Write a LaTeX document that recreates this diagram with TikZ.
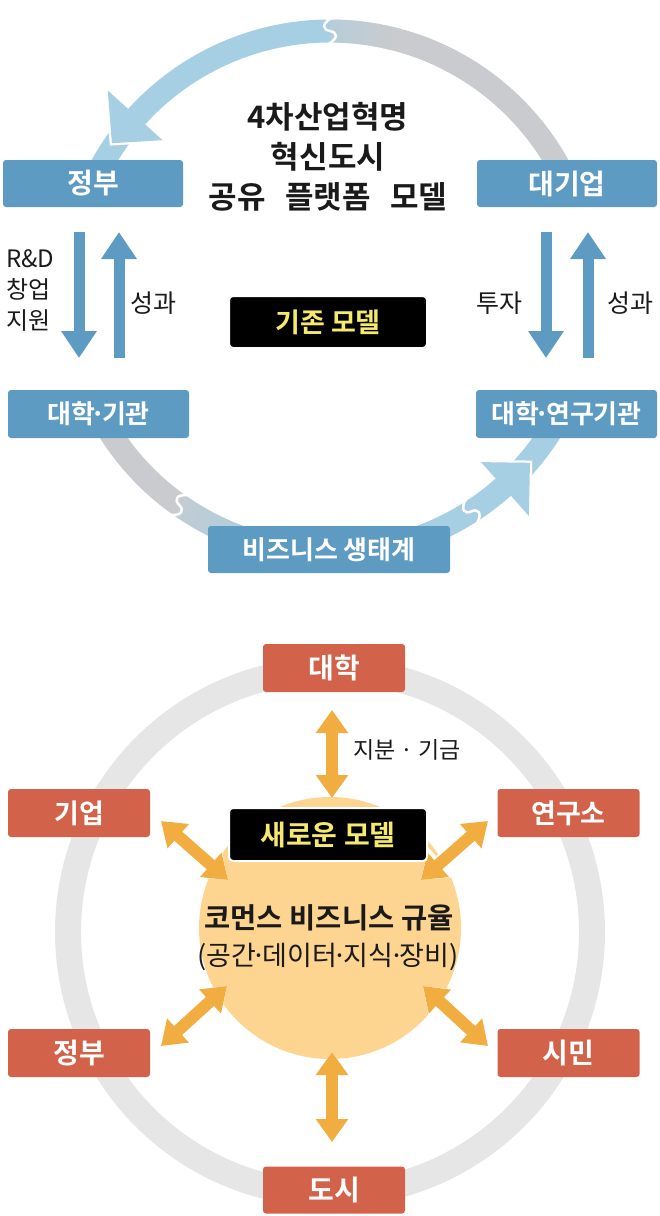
\documentclass[tikz,border=0pt]{standalone}
\usepackage{fontspec}
\setmainfont{Noto Sans CJK KR}[BoldFont={Noto Sans CJK KR Bold}]
\usetikzlibrary{arrows.meta}
\newcommand\mdt{\kern-0.16em·\kern-0.16em}
\definecolor{boxblue}{HTML}{5E9BC3}
\definecolor{bandblue}{HTML}{A7CFE4}
\definecolor{bandgray}{HTML}{C9CBCE}
\definecolor{boxred}{HTML}{D2634A}
\definecolor{ringgray}{HTML}{E6E6E7}
\definecolor{orangeA}{HTML}{F1AD3F}
\definecolor{orangeC}{HTML}{FDD490}
\definecolor{yel}{HTML}{F5EA6E}
\definecolor{ink}{HTML}{1A1A1A}
\tikzset{
  bluebox/.style={fill=boxblue, rounded corners=3pt, text=white, inner sep=0pt,
    font=\bfseries\fontsize{26}{30}\selectfont, minimum width=180pt, minimum height=47pt},
  redbox/.style={fill=boxred, rounded corners=3pt, text=white, inner sep=0pt,
    font=\bfseries\fontsize{28}{30}\selectfont, minimum width=142pt, minimum height=48pt},
  darkbox/.style={fill=black, draw=white, line width=2pt, rounded corners=4pt, text=yel, inner sep=0pt,
    font=\bfseries\fontsize{27}{30}\selectfont, minimum width=198pt, minimum height=52pt},
  lbl/.style={text=ink, inner sep=0pt, font=\fontsize{24}{31}\selectfont},
  bandline/.style={line width=23pt},
  vup/.style={draw=boxblue, line width=11pt, -{Triangle[width=34pt,length=27pt]}},
  dbl/.style={draw=orangeA, fill=orangeA, line width=12pt, {Triangle[width=31pt,length=23pt]}-{Triangle[width=31pt,length=23pt]}},
  dblw/.style={draw=white, fill=white, line width=16pt, {Triangle[width=38pt,length=27pt]}-{Triangle[width=38pt,length=27pt]}},
  notch/.style={draw=white, line width=2.5pt},
}
\begin{document}
\begin{tikzpicture}[x=1pt,y=1pt]
\useasboundingbox (0,0) rectangle (660,-1216);
% ---------------- top: cycle band ----------------
\begin{scope}[shift={(330,-292)}]
  % top arc
  \draw[bandline, bandgray] (27:261) arc[start angle=27, end angle=76.5, radius=261];
  \foreach \i in {0,...,27}{
    \pgfmathsetmacro\aa{76+\i*0.5}
    \pgfmathsetmacro\pp{\i*2}
    \draw[bandline, draw=bandblue!\pp!bandgray] (\aa:261) arc[start angle=\aa, end angle=\aa+0.7, radius=261];
  }
  \draw[bandline, bandblue] (90:261) arc[start angle=90, end angle=153, radius=261];
  % bottom arc
  \draw[bandline, bandgray] (207:261) arc[start angle=207, end angle=235, radius=261];
  \foreach \i in {0,...,46}{
    \pgfmathsetmacro\aa{234.7+\i*0.5}
    \pgfmathsetmacro\pp{20+\i*80/46}
    \draw[bandline, draw=bandblue!\pp!bandgray] (\aa:261) arc[start angle=\aa, end angle=\aa+0.7, radius=261];
  }
  \draw[bandline, bandblue] (257.5:261) arc[start angle=257.5, end angle=333, radius=261];
  % notches
  \foreach \t in {90,234.7,302.8}{
    \begin{scope}[rotate=\t-90]
      \draw[notch] (1.5,274) .. controls (-9,268) and (-7,262) .. (0,261) .. controls (7,260) and (9,254) .. (-1.5,248);
    \end{scope}
  }
  % arrowheads
  \draw[white, line width=4.5pt, line join=miter] (137.8:300) -- (145.7:264) -- (137.8:226);
  \fill[bandblue] (145.7:264) -- (137.8:300) -- (137.8:226) -- cycle;
  \draw[white, line width=4.5pt, line join=miter] (311.6:227.5) -- (319.5:263) -- (311.6:299.5);
  \fill[bandblue] (319.5:263) -- (311.6:227.5) -- (311.6:299.5) -- cycle;
\end{scope}

% ---------------- top: nodes ----------------
\node[bluebox, font=\bfseries\fontsize{28}{30}\selectfont] (gov1) at (93,-183.5) {정부};
\node[bluebox, font=\bfseries\fontsize{28}{30}\selectfont] (bigco) at (567,-183.5) {대기업};
\node[bluebox, minimum width=181pt, minimum height=48pt] (uni1) at (98.5,-414) {대학\mdt 기관};
\node[bluebox, minimum width=181pt, minimum height=48pt] (uni2) at (566.5,-414) {대학\mdt 연구기관};
\node[bluebox, minimum width=242pt] (eco) at (329,-549.5) {비즈니스 생태계};
\node[darkbox] (oldm) at (328,-322) {기존 모델};
\node[text=ink, inner sep=0pt, align=center, font=\bfseries\fontsize{31}{40}\selectfont] (title) at (328,-157)
  {4차산업혁명\\혁신도시\\공유\hspace{0.4em} 플랫폼\hspace{0.4em} 모델};

% vertical arrows
\coordinate (l1a) at (79,-232);  \coordinate (l1b) at (79,-358);
\coordinate (l2a) at (119,-358); \coordinate (l2b) at (119,-232);
\coordinate (r1a) at (546,-232); \coordinate (r1b) at (546,-358);
\coordinate (r2a) at (588,-358); \coordinate (r2b) at (588,-232);
\draw[vup] (l1a) -- (l1b);
\draw[vup] (l2a) -- (l2b);
\draw[vup] (r1a) -- (r1b);
\draw[vup] (r2a) -- (r2b);

\node[lbl, anchor=west, align=left] (rd) at (6,-290) {R\&D\\창업\\지원};
\node[lbl, font=\fontsize{25}{30}\selectfont] (res1) at (153,-303) {성과};
\node[lbl, font=\fontsize{25}{30}\selectfont] (inv) at (499,-303) {투자};
\node[lbl, font=\fontsize{25}{30}\selectfont] (res2) at (630,-303) {성과};

% ---------------- bottom ----------------
\node[circle, draw=ringgray, line width=26pt, minimum size=524pt, inner sep=0pt] (ring) at (330,-932) {};
\node[circle, fill=orangeC, minimum size=262pt, inner sep=0pt] (hub) at (330,-928) {};

\coordinate (u1) at (332,-710);  \coordinate (u2) at (332,-798);
\coordinate (d1) at (332,-1052); \coordinate (d2) at (332,-1142);
\coordinate (c1) at (161,-821);  \coordinate (c2) at (228,-880);
\coordinate (k1) at (488,-821);  \coordinate (k2) at (421,-880);
\coordinate (g1) at (161,-1046); \coordinate (g2) at (227,-986);
\coordinate (s1) at (488,-1046); \coordinate (s2) at (423,-986);
\foreach \p/\q in {u1/u2,d1/d2,c1/c2,k1/k2,g1/g2,s1/s2}{
  \draw[dblw] (\p) -- (\q);
}
\foreach \p/\q in {u1/u2,d1/d2,c1/c2,k1/k2,g1/g2,s1/s2}{
  \draw[dbl] (\p) -- (\q);
}

\node[redbox] (univ) at (334,-668) {대학};
\node[redbox, font=\bfseries\fontsize{27}{30}\selectfont] (corp) at (79,-813) {기업};
\node[redbox, font=\bfseries\fontsize{27}{30}\selectfont] (lab) at (568.5,-813) {연구소};
\node[redbox] (gov2) at (79,-1053) {정부};
\node[redbox] (cit) at (568.5,-1053) {시민};
\node[redbox, minimum height=47pt] (city) at (334,-1190) {도시};
\node[darkbox, minimum height=53pt, font=\bfseries\fontsize{28}{30}\selectfont] (newm) at (328,-834.5) {새로운 모델};

\node[text=ink, inner sep=0pt, font=\bfseries\fontsize{28.5}{30}\selectfont] (rules1) at (329,-918) {코먼스 비즈니스 규율};
\node[text=ink, inner sep=0pt, font=\fontsize{27}{30}\selectfont] (rules2) at (328,-957) {(공간\mdt 데이터\mdt 지식\mdt 장비)};
\node[lbl, font=\fontsize{23}{30}\selectfont] (fund) at (407,-750) {지분 · 기금};
\end{tikzpicture}
\end{document}
